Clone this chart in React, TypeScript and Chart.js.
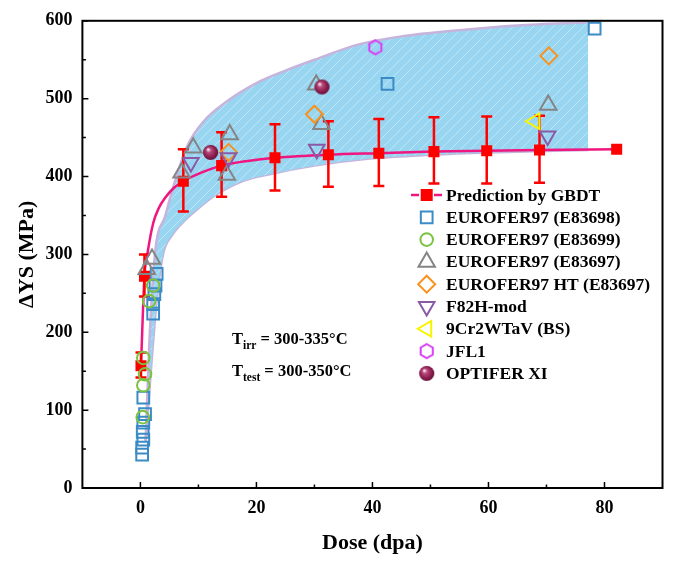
import React, { useEffect, useRef } from 'react';
import { Chart, registerables } from 'chart.js';

Chart.register(...registerables);

const FONT = "'Liberation Serif', 'Times New Roman', serif";

// ---- axis ticks ----
const xTickValues = [0, 20, 40, 60, 80];
const xMinorValues = [10, 30, 50, 70];
const yTickValues = [0, 100, 200, 300, 400, 500, 600];
const yMinorValues = [50, 150, 250, 350, 450, 550];

// ---- GBDT prediction (red squares + error bars) ----
const predX = [0.1, 0.7, 7.4, 14.0, 23.2, 32.4, 41.1, 50.6, 59.7, 68.8, 82.1];
const predY = [157, 272, 394, 414, 424, 428, 430, 432, 433, 434, 435];
const predErrLow = [142, 246, 355, 374, 382, 387, 388, 391, 391, 392, null];
const predErrHigh = [174, 300, 435, 457, 467, 471, 474, 476, 477, 478, null];

// ---- fitted curve (pink) ----
const fitX = [0.1, 0.7, 1.3, 2.2, 3.2, 4.3, 5.7, 7.4, 10.8, 14.0, 18.5, 23.2, 32.4, 41.1, 50.6, 59.7, 68.8, 82.1];
const fitY = [157, 272, 305, 340, 360, 373, 385, 394, 406, 414, 420, 424, 428, 430, 432, 433, 434, 435];

// ---- shaded band ----
const bandLowerX = [0.9, 1.8, 2.8, 3.9, 5.5, 7.7, 10.3, 12.5, 17.2, 22.3, 30, 39.5, 50, 60, 77.2];
const bandLowerY = [60, 150, 240, 300, 325, 344, 361, 374, 393, 403, 414, 423, 428, 431, 434];
const bandUpperX = [0.9, 1.5, 2.5, 4.3, 6.0, 8.0, 10.8, 15, 20, 25, 30, 37.8, 45, 55, 65, 77.2];
const bandUpperY = [60, 180, 300, 350, 395, 438, 470, 497, 520, 536, 550, 570, 580, 588, 594, 598];

// ---- experimental series ----
const e83698X = [0.3, 0.3, 0.5, 0.4, 0.5, 0.8, 0.5, 2.2, 2.2, 2.4, 2.6, 2.8, 42.6, 78.3];
const e83698Y = [43, 52, 62, 72, 84, 95, 116, 224, 236, 249, 260, 275, 519, 590];
const e83699X = [2.2, 1.5, 0.5, 0.8, 0.5, 0.4];
const e83699Y = [260, 240, 167, 146, 132, 91];
const e83697X = [1.1, 2.0, 7.1, 9.1, 14.9, 15.4, 30.3, 31.2, 70.3];
const e83697Y = [281, 294, 405, 437, 402, 454, 518, 467, 492];
const htX = [15.2, 30.0, 70.4];
const htY = [431, 480, 555];
const f82hX = [8.7, 15.2, 30.4, 70.2];
const f82hY = [418, 424, 435, 452];
const cr9X = [68.0];
const cr9Y = [471];
const jfl1X = [40.5];
const jfl1Y = [566];
const optiferX = [12.1, 31.3];
const optiferY = [431, 515];

const seriesLabels = [
  'Prediction by GBDT',
  'EUROFER97 (E83698)',
  'EUROFER97 (E83699)',
  'EUROFER97 (E83697)',
  'EUROFER97 HT (E83697)',
  'F82H-mod',
  '9Cr2WTaV (BS)',
  'JFL1',
  'OPTIFER XI',
];

const toPts = (xs: number[], ys: number[]) => xs.map((x, i) => ({ x, y: ys[i] }));

const RED = '#ff0000';
const PINK = '#f0157f';
const LAV = '#c6b4dc';
const BLUE_SQ = '#3b8bc6';
const GREEN = '#7cc242';
const GREY = '#858585';
const ORANGE = '#f7931e';
const PURPLE = '#8b5aa6';
const YELLOW = '#f8f400';
const MAGENTA = '#d93cf5';

function makeHex(): HTMLCanvasElement {
  const c = document.createElement('canvas');
  c.width = 18; c.height = 18;
  const g = c.getContext('2d')!;
  g.strokeStyle = MAGENTA; g.lineWidth = 2;
  g.beginPath();
  for (let k = 0; k < 6; k++) {
    const a = (-90 + 60 * k) * Math.PI / 180;
    const px = 9 + 7 * Math.cos(a), py = 9 + 7 * Math.sin(a);
    if (k === 0) g.moveTo(px, py); else g.lineTo(px, py);
  }
  g.closePath(); g.stroke();
  return c;
}

function makeBall(): HTMLCanvasElement {
  const c = document.createElement('canvas');
  c.width = 17; c.height = 17;
  const g = c.getContext('2d')!;
  const grad = g.createRadialGradient(6, 5.5, 0.5, 8.5, 8.5, 8.5);
  grad.addColorStop(0, '#fbe3ec');
  grad.addColorStop(0.25, '#b8487a');
  grad.addColorStop(0.7, '#861a4b');
  grad.addColorStop(1, '#5a0c2e');
  g.fillStyle = grad;
  g.beginPath(); g.arc(8.5, 8.5, 7.6, 0, Math.PI * 2); g.fill();
  return c;
}

function makeHatch(ctx: CanvasRenderingContext2D) {
  const c = document.createElement('canvas');
  c.width = 10; c.height = 10;
  const g = c.getContext('2d')!;
  g.fillStyle = '#97d5f0'; g.fillRect(0, 0, 10, 10);
  g.strokeStyle = 'rgba(255,255,255,0.4)'; g.lineWidth = 1;
  g.beginPath();
  g.moveTo(0, 10); g.lineTo(10, 0);
  g.moveTo(-5, 5); g.lineTo(5, -5);
  g.moveTo(5, 15); g.lineTo(15, 5);
  g.stroke();
  return ctx.createPattern(c, 'repeat');
}

type Marker = { kind: string; color: string; r: number; img?: HTMLCanvasElement; rot?: number };

function drawMarker(ctx: CanvasRenderingContext2D, m: Marker, x: number, y: number) {
  ctx.save();
  ctx.lineWidth = 2;
  ctx.strokeStyle = m.color;
  ctx.beginPath();
  if (m.kind === 'rect') {
    const s = m.r * Math.SQRT1_2;
    ctx.rect(x - s, y - s, 2 * s, 2 * s);
    ctx.stroke();
  } else if (m.kind === 'circle') {
    ctx.arc(x, y, m.r, 0, Math.PI * 2);
    ctx.stroke();
  } else if (m.kind === 'triangle') {
    let rad = ((m.rot || 0) * Math.PI) / 180;
    for (let k = 0; k < 3; k++) {
      const px = x + Math.sin(rad) * m.r, py = y - Math.cos(rad) * m.r;
      if (k === 0) ctx.moveTo(px, py); else ctx.lineTo(px, py);
      rad += (2 * Math.PI) / 3;
    }
    ctx.closePath(); ctx.stroke();
  } else if (m.kind === 'rectRot') {
    ctx.moveTo(x, y - m.r); ctx.lineTo(x + m.r, y); ctx.lineTo(x, y + m.r); ctx.lineTo(x - m.r, y);
    ctx.closePath(); ctx.stroke();
  } else if (m.kind === 'img' && m.img) {
    ctx.drawImage(m.img, x - m.img.width / 2, y - m.img.height / 2);
  }
  ctx.restore();
}

export default function App() {
  const ref = useRef<HTMLCanvasElement>(null);

  useEffect(() => {
    document.body.style.margin = '0';
    const canvas = ref.current!;
    const ctx0 = canvas.getContext('2d')!;
    const hex = makeHex();
    const ball = makeBall();
    const hatch = makeHatch(ctx0);

    const markers: Marker[] = [
      { kind: 'rect', color: BLUE_SQ, r: 8.3 },
      { kind: 'circle', color: GREEN, r: 6.3 },
      { kind: 'triangle', color: GREY, r: 9.5, rot: 0 },
      { kind: 'rectRot', color: ORANGE, r: 8.5 },
      { kind: 'triangle', color: PURPLE, r: 9, rot: 180 },
      { kind: 'triangle', color: YELLOW, r: 9, rot: 270 },
      { kind: 'img', color: MAGENTA, r: 8, img: hex },
      { kind: 'img', color: '#861a4b', r: 8, img: ball },
    ];

    const hollow = (label: string, xs: number[], ys: number[], color: string, style: any, r: number, rot: number, order: number) => ({
      label,
      data: toPts(xs, ys),
      pointStyle: style,
      pointRadius: r,
      pointRotation: rot,
      borderColor: color,
      backgroundColor: 'rgba(0,0,0,0)',
      pointBorderWidth: 2,
      borderWidth: 2,
      showLine: false,
      order,
    });

    const PRED_INDEX = 3;

    const custom = {
      id: 'custom',
      beforeDatasetDraw(chart: any, args: any) {
        if (args.index !== PRED_INDEX) return;
        const { ctx, scales } = chart;
        ctx.save();
        ctx.strokeStyle = RED;
        ctx.lineWidth = 2.5;
        predX.forEach((xv, i) => {
          const lo = predErrLow[i], hi = predErrHigh[i];
          if (lo == null || hi == null) return;
          const px = scales.x.getPixelForValue(xv);
          const pLo = scales.y.getPixelForValue(lo);
          const pHi = scales.y.getPixelForValue(hi);
          ctx.beginPath();
          ctx.moveTo(px, pLo); ctx.lineTo(px, pHi);
          ctx.moveTo(px - 5.5, pLo); ctx.lineTo(px + 5.5, pLo);
          ctx.moveTo(px - 5.5, pHi); ctx.lineTo(px + 5.5, pHi);
          ctx.stroke();
        });
        ctx.restore();
      },
      afterDraw(chart: any) {
        const { ctx, chartArea: a, scales } = chart;
        ctx.save();
        // frame
        ctx.strokeStyle = '#000';
        ctx.lineWidth = 2;
        ctx.strokeRect(a.left, a.top, a.right - a.left, a.bottom - a.top);
        // inward ticks
        ctx.lineWidth = 1.5;
        ctx.beginPath();
        yTickValues.forEach((v) => {
          const py = scales.y.getPixelForValue(v);
          ctx.moveTo(a.left, py); ctx.lineTo(a.left + 6, py);
        });
        yMinorValues.forEach((v) => {
          const py = scales.y.getPixelForValue(v);
          ctx.moveTo(a.left, py); ctx.lineTo(a.left + 3.5, py);
        });
        xTickValues.forEach((v) => {
          const px = scales.x.getPixelForValue(v);
          ctx.moveTo(px, a.bottom); ctx.lineTo(px, a.bottom - 6);
        });
        xMinorValues.forEach((v) => {
          const px = scales.x.getPixelForValue(v);
          ctx.moveTo(px, a.bottom); ctx.lineTo(px, a.bottom - 3.5);
        });
        ctx.stroke();

        // annotations
        ctx.fillStyle = '#000';
        ctx.textBaseline = 'alphabetic';
        ctx.textAlign = 'left';
        const sub = (x: number, y: number, main: string, s: string, rest: string) => {
          ctx.font = `bold 16.5px ${FONT}`;
          ctx.fillText(main, x, y);
          let w = ctx.measureText(main).width;
          ctx.font = `bold 11.5px ${FONT}`;
          ctx.fillText(s, x + w, y + 5);
          w += ctx.measureText(s).width;
          ctx.font = `bold 16.5px ${FONT}`;
          ctx.fillText(rest, x + w, y);
        };
        sub(232, 344, 'T', 'irr', ' = 300-335°C');
        sub(232, 376, 'T', 'test', ' = 300-350°C');

        // legend
        const lx = 426.7, tx = 446, ly0 = 195, dy = 22.3;
        ctx.strokeStyle = PINK;
        ctx.lineWidth = 2.5;
        ctx.beginPath();
        ctx.moveTo(411, ly0); ctx.lineTo(419, ly0);
        ctx.moveTo(434, ly0); ctx.lineTo(442, ly0);
        ctx.stroke();
        ctx.fillStyle = RED;
        ctx.fillRect(lx - 6, ly0 - 6, 12, 12);
        markers.forEach((m, i) => drawMarker(ctx, m, lx, ly0 + dy * (i + 1)));
        ctx.fillStyle = '#000';
        ctx.font = `bold 17.5px ${FONT}`;
        ctx.textBaseline = 'middle';
        seriesLabels.forEach((t, i) => ctx.fillText(t, tx, ly0 + dy * i + 1));
        ctx.restore();
      },
    };

    const chart = new Chart(canvas, {
      type: 'scatter',
      data: {
        datasets: [
          {
            label: 'band-lower',
            data: toPts(bandLowerX, bandLowerY),
            showLine: true,
            borderColor: LAV,
            borderWidth: 2.5,
            pointRadius: 0,
            fill: false,
            cubicInterpolationMode: 'monotone',
            order: 30,
          } as any,
          {
            label: 'band-upper',
            data: toPts(bandUpperX, bandUpperY),
            showLine: true,
            borderColor: LAV,
            borderWidth: 2.5,
            pointRadius: 0,
            fill: '-1',
            backgroundColor: hatch,
            cubicInterpolationMode: 'monotone',
            order: 29,
          } as any,
          {
            label: 'fit',
            data: toPts(fitX, fitY),
            showLine: true,
            borderColor: PINK,
            borderWidth: 2.5,
            pointRadius: 0,
            fill: false,
            cubicInterpolationMode: 'monotone',
            order: 28,
          } as any,
          {
            label: seriesLabels[0],
            data: toPts(predX, predY),
            showLine: false,
            pointStyle: 'rect',
            pointRadius: 7.8,
            backgroundColor: RED,
            borderColor: RED,
            pointBorderWidth: 0,
            order: 27,
          } as any,
          hollow(seriesLabels[1], e83698X, e83698Y, BLUE_SQ, 'rect', 8.3, 0, 10),
          hollow(seriesLabels[2], e83699X, e83699Y, GREEN, 'circle', 6.3, 0, 9),
          hollow(seriesLabels[3], e83697X, e83697Y, GREY, 'triangle', 9.5, 0, 8),
          hollow(seriesLabels[4], htX, htY, ORANGE, 'rectRot', 8.5, 0, 7),
          hollow(seriesLabels[5], f82hX, f82hY, PURPLE, 'triangle', 9, 180, 6),
          hollow(seriesLabels[6], cr9X, cr9Y, YELLOW, 'triangle', 9, 270, 5),
          hollow(seriesLabels[7], jfl1X, jfl1Y, MAGENTA, hex, 8, 0, 4),
          hollow(seriesLabels[8], optiferX, optiferY, '#861a4b', ball, 8, 0, 3),
        ] as any,
      },
      options: {
        animation: false,
        responsive: false,
        devicePixelRatio: 1,
        events: [],
        layout: { padding: { left: 0, right: 11, top: 15, bottom: 0 } },
        plugins: {
          legend: { display: false },
          tooltip: { enabled: false },
        },
        scales: {
          x: {
            type: 'linear',
            min: -10,
            max: 90,
            afterBuildTicks: (s: any) => { s.ticks = xTickValues.map((v) => ({ value: v })); },
            afterFit: (s: any) => { s.height = 74; },
            grid: { display: false, drawTicks: false },
            border: { display: false },
            ticks: {
              padding: 10,
              color: '#000',
              font: { family: FONT, size: 18, weight: 'bold' },
            },
            title: {
              display: true,
              text: 'Dose (dpa)',
              color: '#000',
              font: { family: FONT, size: 22, weight: 'bold' },
              padding: { top: 0, bottom: 5 },
            },
          },
          y: {
            type: 'linear',
            min: 0,
            max: 600,
            afterBuildTicks: (s: any) => { s.ticks = yTickValues.map((v) => ({ value: v })); },
            afterFit: (s: any) => { s.width = 82.4; },
            grid: { display: false, drawTicks: false },
            border: { display: false },
            ticks: {
              padding: 10,
              color: '#000',
              font: { family: FONT, size: 18, weight: 'bold' },
            },
            title: {
              display: true,
              text: 'ΔYS (MPa)',
              color: '#000',
              font: { family: FONT, size: 22, weight: 'bold' },
              padding: { top: 14, bottom: 0 },
            },
          },
        },
      } as any,
      plugins: [custom],
    });

    return () => chart.destroy();
  }, []);

  return (
    <div style={{ width: 674, height: 562 }}>
      <canvas ref={ref} width={674} height={562} style={{ display: 'block' }} />
    </div>
  );
}
